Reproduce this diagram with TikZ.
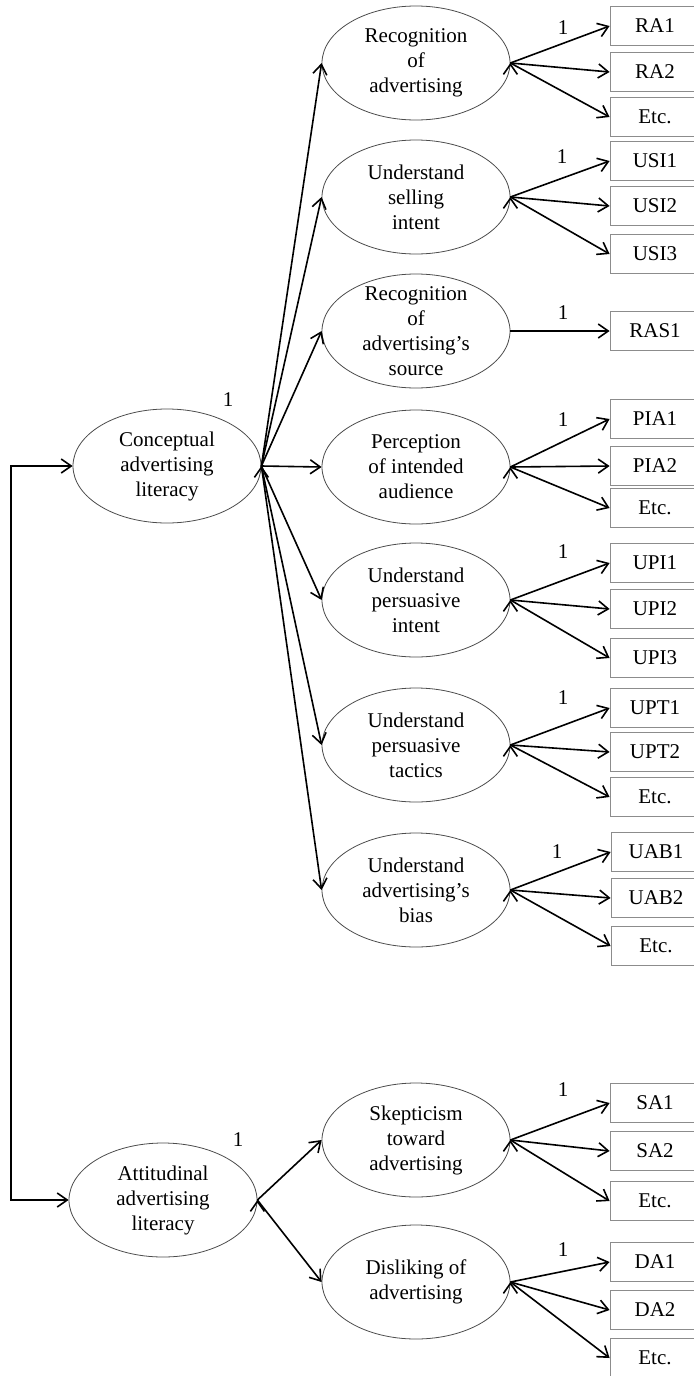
\documentclass[tikz,border=0pt]{standalone}
\usepackage{fontspec}
\setmainfont{Liberation Serif}
\usepackage{tikz}
\usetikzlibrary{arrows.meta,shapes}

\begin{document}
\begin{tikzpicture}[x=0.5pt, y=-0.5pt, align=center,
        font=\fontsize{10.5}{12.5}\selectfont,
        >={Straight Barb[length=5pt,width=7pt]},
        factor/.style={draw=black!70, ellipse, inner sep=0pt, minimum width=94pt, minimum height=57pt},
        item/.style={draw=black!45, minimum width=45pt, minimum height=19.5pt, inner sep=0pt},
        link/.style={->, line width=0.8pt}]
        \useasboundingbox (0,0) rectangle (693,1376);

        % latent factors
        \node [factor] (cal) at (167,466) {Conceptual\\advertising\\literacy};
        \node [factor] (aal) at (163,1200) {Attitudinal\\advertising\\literacy};

        \node [factor] (ra) at (416,63) {Recognition\\of\\advertising};
        \node [factor] (usi) at (416,197) {Understand\\selling\\intent};
        \node [factor, inner ysep=-4pt] (ras) at (416,331) {Recognition\\of\\advertising's\\source};
        \node [factor] (pia) at (416,467) {Perception\\of intended\\audience};
        \node [factor] (upi) at (416,600) {Understand\\persuasive\\intent};
        \node [factor] (upt) at (416,745) {Understand\\persuasive\\tactics};
        \node [factor] (uab) at (416,890) {Understand\\advertising's\\bias};
        \node [factor] (sa) at (416,1140) {Skepticism\\toward\\advertising};
        \node [factor] (da) at (416,1282) {Disliking of\\advertising};

        % indicators
        \node [item] (ra1) at (655,26) {RA1};
        \node [item] (ra2) at (655,72) {RA2};
        \node [item] (ra-etc) at (655,117) {Etc.};
        \node [item] (usi1) at (655,161) {USI1};
        \node [item] (usi2) at (655,206) {USI2};
        \node [item] (usi3) at (655,254) {USI3};
        \node [item] (ras1) at (655,331) {RAS1};
        \node [item] (pia1) at (655,419) {PIA1};
        \node [item] (pia2) at (655,466) {PIA2};
        \node [item] (pia-etc) at (655,508) {Etc.};
        \node [item] (upi1) at (655,563) {UPI1};
        \node [item] (upi2) at (655,609) {UPI2};
        \node [item] (upi3) at (655,658) {UPI3};
        \node [item] (upt1) at (655,708) {UPT1};
        \node [item] (upt2) at (655,752) {UPT2};
        \node [item] (upt-etc) at (655,797) {Etc.};
        \node [item] (uab1) at (656,852) {UAB1};
        \node [item] (uab2) at (656,898) {UAB2};
        \node [item] (uab-etc) at (656,946) {Etc.};
        \node [item] (sa1) at (655,1103) {SA1};
        \node [item] (sa2) at (655,1151) {SA2};
        \node [item] (sa-etc) at (655,1201) {Etc.};
        \node [item] (da1) at (655,1262) {DA1};
        \node [item] (da2) at (655,1310) {DA2};
        \node [item] (da-etc) at (655,1358) {Etc.};

        % fixed loadings
        \node (w-cal) at (228,400) {1};
        \node (w-aal) at (238,1140) {1};
        \node (w-ra) at (563,28) {1};
        \node (w-usi) at (562,157) {1};
        \node (w-ras) at (563,313) {1};
        \node (w-pia) at (563,420) {1};
        \node (w-upi) at (563,552) {1};
        \node (w-upt) at (563,698) {1};
        \node (w-uab) at (557,852) {1};
        \node (w-sa) at (563,1090) {1};
        \node (w-da) at (563,1250) {1};

        \draw[link] (cal.east) edge (ra.west) edge (usi.west) edge (ras.west) edge (pia.west)
            edge (upi.west) edge (upt.west) edge (uab.west);
        \draw[link] (aal.east) edge (sa.west) edge (da.west);

        \draw[link] (ra.east) edge (ra1.west) edge (ra2.west) edge (ra-etc.west);
        \draw[link] (usi.east) edge (usi1.west) edge (usi2.west) edge (usi3.west);
        \draw[link] (ras.east) -- (ras1.west);
        \draw[link] (pia.east) edge (pia1.west) edge (pia2.west) edge (pia-etc.west);
        \draw[link] (upi.east) edge (upi1.west) edge (upi2.west) edge (upi3.west);
        \draw[link] (upt.east) edge (upt1.west) edge (upt2.west) edge (upt-etc.west);
        \draw[link] (uab.east) edge (uab1.west) edge (uab2.west) edge (uab-etc.west);
        \draw[link] (sa.east) edge (sa1.west) edge (sa2.west) edge (sa-etc.west);
        \draw[link] (da.east) edge (da1.west) edge (da2.west) edge (da-etc.west);

        % correlation between the two dimensions
        \coordinate (bus) at (11,466);
        \draw[link, <->] (cal.west) -- (bus) -- (bus |- aal.west) -- (aal.west);
    \end{tikzpicture}
\end{document}
